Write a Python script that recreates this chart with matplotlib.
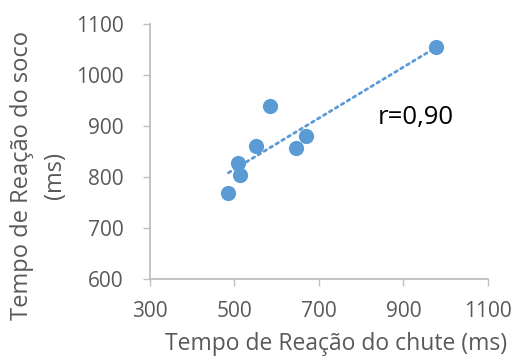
import matplotlib.pyplot as plt
import numpy as np

# tempos de reação (ms)
chute = [978, 584, 551, 509, 513, 486, 647, 670]
soco = [1054, 939, 861, 828, 803, 769, 856, 880]

x_ticks = [300, 500, 700, 900, 1100]
y_ticks = [600, 700, 800, 900, 1000, 1100]

azul = '#5B9BD5'
cinza = '#BFBFBF'
texto = '#595959'

plt.rcParams['font.family'] = ['Open Sans', 'DejaVu Sans']

fig = plt.figure(figsize=(5.13, 3.61), dpi=100)
ax = fig.add_axes([0.292, 0.227, 0.659, 0.707])

ax.scatter(chute, soco, s=120, color=azul, zorder=3, linewidths=0)

# linha de tendência linear
a, b = np.polyfit(chute, soco, 1)
xs = np.array([min(chute), max(chute)])
ax.plot(xs, a * xs + b, color=azul, lw=2, linestyle=(0, (1, 1.5)),
        dash_capstyle='round', zorder=2)

ax.text(840, 916, 'r=0,90', fontsize=18.5, color='black', ha='left', va='center')

ax.set_xlim(300, 1100)
ax.set_ylim(600, 1100)
ax.set_xticks(x_ticks)
ax.set_yticks(y_ticks)
ax.tick_params(labelsize=15, colors=texto, length=5, width=1, color=cinza)
ax.tick_params(axis='y', pad=14)
ax.tick_params(axis='x', pad=11)
for lado in ['top', 'right']:
    ax.spines[lado].set_visible(False)
for lado in ['left', 'bottom']:
    ax.spines[lado].set_color(cinza)
    ax.spines[lado].set_linewidth(1.3)

fig.text(0.655, 0.046, 'Tempo de Reação do chute (ms)', fontsize=16.5, color=texto,
         ha='center', va='center')
fig.text(0.075, 0.515, 'Tempo de Reação do soco\n(ms)', fontsize=17, color=texto,
         ha='center', va='center', rotation=90, multialignment='center',
         linespacing=1.5)

fig.savefig('out.png', dpi=100)
